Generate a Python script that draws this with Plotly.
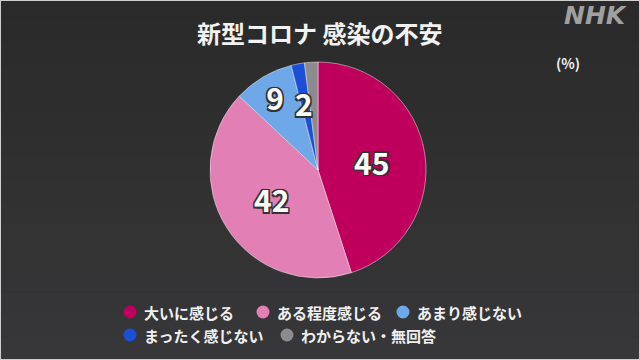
import plotly.graph_objects as go

categories = ["大いに感じる", "ある程度感じる", "あまり感じない", "まったく感じない", "わからない・無回答"]
values = [45, 42, 9, 2, 2]
labels_shown = ["45", "42", "9", "2", ""]
colors = ["#be005c", "#e27fb5", "#6fa8e8", "#1d4fd6", "#8c8c90"]
title_text = "新型コロナ 感染の不安"
unit_text = "(%)"

W, H = 640, 360
FONT = "Noto Sans CJK JP"
STROKE = "-1.5px -1.5px 0 #333, 1.5px -1.5px 0 #333, -1.5px 1.5px 0 #333, 1.5px 1.5px 0 #333, 0 0 2px #222"

fig = go.Figure()

# pie center (318,170) radius 108 in pixels
cx, cy, r = 318, 170, 108
fig.add_trace(go.Pie(
    labels=categories, values=values, text=labels_shown,
    sort=False, direction="clockwise", rotation=0,
    marker=dict(colors=colors, line=dict(color="rgba(255,255,255,0.45)", width=1)),
    textinfo="text",
    textposition=["inside", "inside", "inside", "none", "none"],
    insidetextorientation="horizontal",
    textfont=dict(family=FONT, size=30, color="white", weight="bold", shadow=STROKE),
    hoverinfo="label+value",
    showlegend=False,
    domain=dict(x=[(cx - r) / W, (cx + r) / W], y=[1 - (cy + r) / H, 1 - (cy - r) / H]),
))

shapes = []
# background gradient bands
n = 16
c0 = (0x2a, 0x2a, 0x2a)
c1 = (0x37, 0x37, 0x39)
for i in range(n):
    t = i / (n - 1)
    c = tuple(int(round(c0[k] + (c1[k] - c0[k]) * t)) for k in range(3))
    shapes.append(dict(type="rect", xref="paper", yref="paper", layer="below",
                       x0=0, x1=1, y0=1 - (i + 1) / n, y1=1 - i / n,
                       fillcolor="rgb(%d,%d,%d)" % c, line=dict(width=0)))
# border
shapes.append(dict(type="rect", xref="paper", yref="paper", layer="above",
                   x0=0, x1=1, y0=0, y1=1, line=dict(color="#cfcfcf", width=2)))

annotations = []
annotations.append(dict(text="<b>" + title_text + "</b>", x=319 / W, y=1 - 32 / H,
                        xref="paper", yref="paper", xanchor="center", yanchor="middle",
                        showarrow=False, font=dict(family=FONT, size=24, color="#f2f2f2")))
annotations.append(dict(text="<b><i>NHK</i></b>", x=595 / W, y=1 - 16 / H,
                        xref="paper", yref="paper", xanchor="center", yanchor="middle",
                        showarrow=False, font=dict(family="DejaVu Sans", size=25, color="#a0a0a0")))
annotations.append(dict(text="<b>" + unit_text + "</b>", x=568 / W, y=1 - 63 / H,
                        xref="paper", yref="paper", xanchor="center", yanchor="middle",
                        showarrow=False, font=dict(family=FONT, size=14, color="#f0f0f0")))
# small slice label "2"
annotations.append(dict(text="<b>" + labels_shown[3] + "</b>", x=304 / W, y=1 - 103 / H,
                        xref="paper", yref="paper", xanchor="center", yanchor="middle",
                        showarrow=False,
                        font=dict(family=FONT, size=30, color="white", shadow=STROKE)))

# custom legend with circle markers
legend_pos = [(130, 312), (263, 312), (403, 312), (130, 335), (287, 335)]
rad = 6.5
for cat, col, (lx, ly) in zip(categories, colors, legend_pos):
    shapes.append(dict(type="circle", xref="paper", yref="paper",
                       x0=(lx - rad) / W, x1=(lx + rad) / W,
                       y0=1 - (ly + rad) / H, y1=1 - (ly - rad) / H,
                       fillcolor=col, line=dict(width=0)))
    annotations.append(dict(text="<b>" + cat + "</b>", x=(lx + 12) / W, y=1 - ly / H,
                            xref="paper", yref="paper", xanchor="left", yanchor="middle",
                            showarrow=False, font=dict(family=FONT, size=15, color="#f0f0f0")))

fig.update_layout(
    width=W, height=H,
    margin=dict(l=0, r=0, t=0, b=0),
    paper_bgcolor="#2e2e2e", plot_bgcolor="#2e2e2e",
    shapes=shapes, annotations=annotations,
    showlegend=False,
)

fig.write_html("out.html", config={"displayModeBar": False},
               post_script="document.body.style.margin='0';document.body.style.overflow='hidden';")
